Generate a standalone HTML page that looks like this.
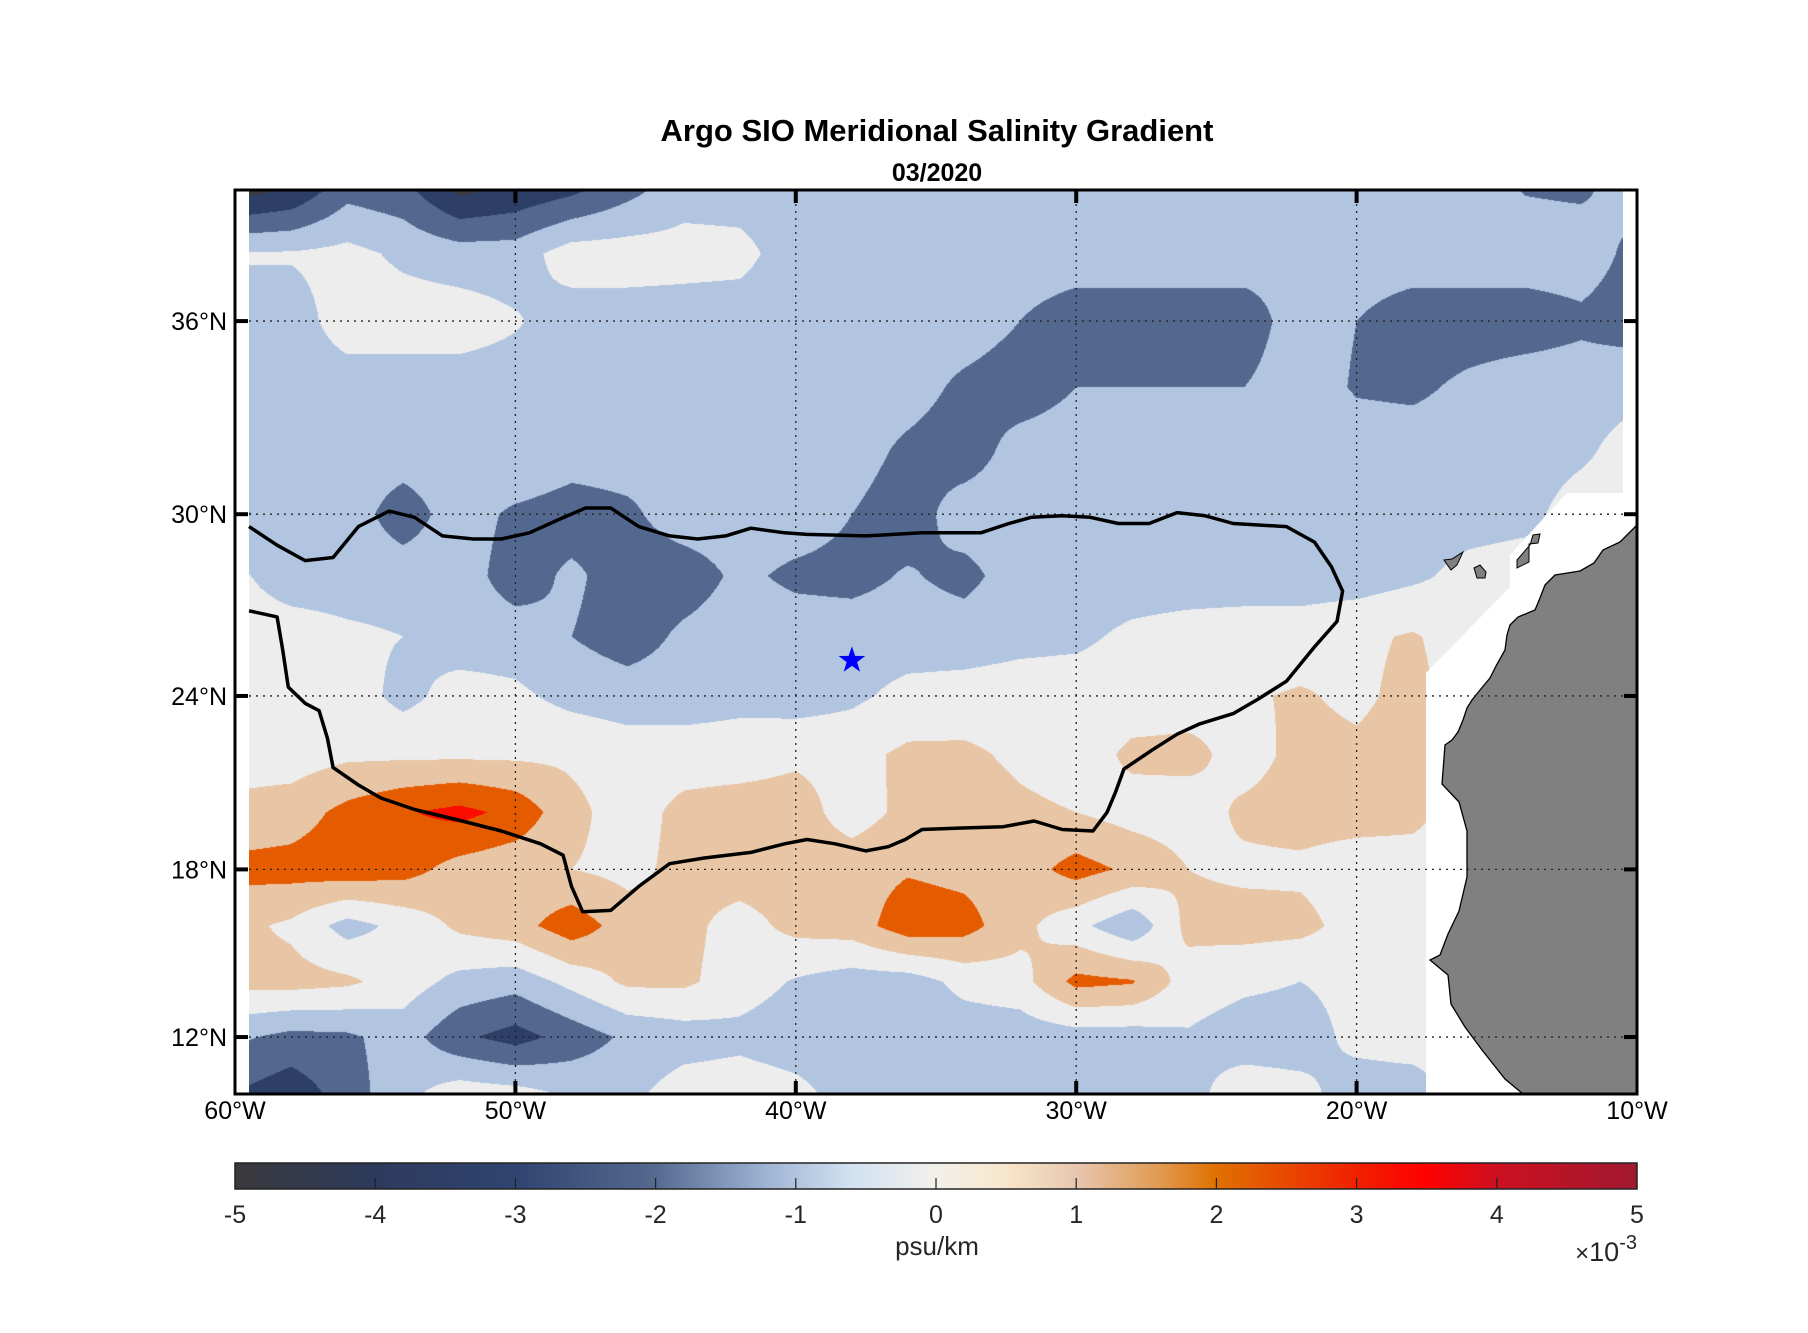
<!DOCTYPE html>
<html><head><meta charset="utf-8"><style>
html,body{margin:0;padding:0;background:#fff;}
#wrap{position:relative;width:1808px;height:1333px;overflow:hidden;font-family:"Liberation Sans",sans-serif;}
canvas,svg{position:absolute;left:0;top:0;}
</style></head><body>
<div id="wrap">
<canvas id="cv" width="1808" height="1333"></canvas>
<svg id="sv" width="1808" height="1333" xmlns="http://www.w3.org/2000/svg">
<defs>
<linearGradient id="cmap" x1="0" x2="1" y1="0" y2="0">
<stop offset="0" stop-color="#3a3a3c"/><stop offset="0.1" stop-color="#2d3a5c"/><stop offset="0.2" stop-color="#2f4470"/>
<stop offset="0.3" stop-color="#56698f"/><stop offset="0.38" stop-color="#a0b4d4"/><stop offset="0.44" stop-color="#d2e2f2"/>
<stop offset="0.5" stop-color="#f2f0ea"/><stop offset="0.55" stop-color="#f8e6cc"/><stop offset="0.6" stop-color="#e8c6b0"/>
<stop offset="0.66" stop-color="#e09a50"/><stop offset="0.7" stop-color="#e07000"/><stop offset="0.8" stop-color="#f02000"/>
<stop offset="0.85" stop-color="#ff0000"/><stop offset="0.9" stop-color="#cc1020"/><stop offset="1" stop-color="#a01830"/>
</linearGradient>
</defs>
<polygon fill="#fff" points="1426,1094 1426,673 1510,587 1510,555 1542,520 1567,493 1623,493 1623,190 1637,190 1637,1094"/>
<rect x="235" y="190" width="14" height="904" fill="#fff"/>
<polygon fill="#808080" stroke="#000" stroke-width="1.3" points="1637,525 1620,542 1603,550 1594,563 1580,571 1555,575 1545,585 1540,598 1535,610 1518,617 1510,625 1507,635 1505,650 1496,666 1490,678 1480,690 1472,700 1467,708 1463,720 1458,732 1452,740 1445,745 1442,784 1459,802 1467,831 1467,877 1459,911 1448,934 1440,955 1430,960 1448,975 1451,1004 1465,1027 1482,1050 1505,1079 1523,1094 1637,1094"/>
<polygon fill="#808080" stroke="#000" stroke-width="1" points="1444,560 1452,559 1463,552 1457,565 1451,570"/>
<polygon fill="#808080" stroke="#000" stroke-width="1" points="1474,568 1480,565 1486,572 1485,578 1477,578"/>
<polygon fill="#808080" stroke="#000" stroke-width="1" points="1517,560 1530,545 1533,535 1540,534 1538,543 1529,544 1529,562 1517,568"/>
<g id="grid"></g>
<g id="marks"></g>
<rect x="235" y="190" width="1402" height="904" fill="none" stroke="#000" stroke-width="3"/>
<g id="ticks"></g>
<text x="937" y="141" text-anchor="middle" font-size="31" font-weight="bold" fill="#000">Argo SIO Meridional Salinity Gradient</text>
<text x="937" y="181" text-anchor="middle" font-size="25" font-weight="bold" fill="#000">03/2020</text>
<rect x="235" y="1163" width="1402" height="26" fill="url(#cmap)" stroke="#222" stroke-width="1.5"/>
<g id="cbticks"></g>
<text x="937" y="1255" text-anchor="middle" font-size="26" fill="#262626">psu/km</text>
<text x="1637" y="1261" text-anchor="end" font-size="27" fill="#262626"><tspan font-size="24">×</tspan>10<tspan dy="-12" font-size="20">-3</tspan></text>
</svg>
</div>
<script>
const gridLons = [-60,-58,-56,-54,-52,-50,-48,-46,-44,-42,-40,-38,-36,-34,-32,-30,-28,-26,-24,-22,-20,-18,-16,-14,-12,-10];
const gridLats = [40,38,36,34,32,30,28,26,24,22,20,18,16,14,12,10];
const lat40 = [-3.8,-3.2,-1.5,-1.8,-3.5,-3.0,-2.5,-1.5,-0.5,-0.5,-0.5,-0.5,-0.5,-0.5,-0.5,-0.5,-0.5,-0.5,-0.5,-0.5,-0.5,-0.5,-0.5,-1.1,-1.2,-0.5];
const lat38 = [0.1,0.1,0.3,-0.2,-0.5,-0.5,0.5,0.5,0.4,0.3,-0.5,-0.5,-0.5,-0.5,-0.5,-0.5,-0.5,-0.5,-0.5,-0.8,-0.5,-0.5,-0.5,-0.5,-0.5,-1.3];
const lat36 = [-0.5,-0.5,0.5,0.5,0.5,0.1,-0.5,-0.5,-0.5,-0.5,-0.5,-0.5,-0.5,-0.5,-1.0,-1.5,-1.5,-1.5,-1.5,-0.5,-1.0,-1.5,-1.5,-1.5,-1.2,-1.5];
const lat34 = [-0.5,-0.5,-0.5,-0.5,-0.5,-0.5,-0.5,-0.5,-0.5,-0.5,-0.5,-0.5,-0.6,-1.2,-1.5,-1.0,-1.0,-1.0,-1.0,-0.5,-1.1,-1.2,-0.8,-0.5,-0.5,-0.3];
const lat32 = [-0.5,-0.5,-0.5,-0.5,-0.5,0.0,-0.5,-0.5,-0.7,-0.5,-0.5,-0.6,-1.2,-1.5,-0.6,-0.5,-0.5,-0.5,-0.5,-0.5,-0.5,-0.5,-0.5,-0.5,-0.2,0.5];
const lat30 = [-1.2,-0.5,-0.5,-1.5,-0.5,-1.2,-1.5,-1.2,-0.5,-0.5,-0.5,-1.0,-1.5,-0.5,-0.5,-0.5,-0.5,-0.5,-0.5,-0.5,-0.5,-0.5,-0.4,-0.3,0.5,0.5];
const lat28 = [0.2,-0.5,-0.5,-0.5,-0.5,-1.5,-0.8,-1.5,-1.5,-0.8,-1.2,-1.3,-0.9,-1.3,-0.5,-0.5,-0.5,-0.5,-0.5,-0.5,-0.5,-0.2,0.3,0.5,0.5,0.5];
const lat26 = [0.5,0.5,0.2,0.0,-0.5,-0.5,-1.0,-1.5,-0.8,-0.5,-0.5,-0.5,-0.5,-0.5,-0.3,-0.2,0.2,0.4,0.5,0.5,0.8,1.1,0.5,0.5,0.5,0.5];
const lat24 = [1.2,0.5,0.5,-0.3,0.4,0.2,-0.3,-0.5,-0.5,-0.3,-0.5,-0.2,0.3,0.4,0.5,0.5,0.5,0.5,0.9,1.1,0.8,1.3,0.5,0.5,0.5,0.5];
const lat22 = [0.5,0.5,0.8,0.8,0.8,0.8,0.8,0.5,0.5,0.5,0.8,0.7,1.2,1.2,0.8,0.5,1.2,1.3,0.6,1.3,1.2,1.4,0.5,0.5,0.5,0.5];
const lat20 = [1.3,1.5,2.3,2.9,3.3,2.7,1.3,0.5,1.3,1.5,1.5,0.5,1.3,1.5,1.2,1.0,0.6,0.5,1.2,1.4,1.4,1.3,0.5,0.5,0.5,0.5];
const lat18 = [2.3,2.4,2.6,2.4,1.6,1.3,1.0,0.7,1.3,1.5,1.5,1.6,1.9,1.7,1.5,2.4,1.8,1.0,0.8,0.8,0.5,0.5,0.5,0.5,0.5,0.5];
const lat16 = [1.3,0.8,-0.4,0.3,1.2,1.6,2.6,1.5,1.3,0.6,1.3,1.5,2.6,2.4,1.3,0.3,-0.8,1.3,1.4,1.3,0.6,0.5,0.5,0.5,0.5,0.5];
const lat14 = [1.3,1.4,1.2,0.5,-0.3,-0.6,0.3,1.2,1.2,0.5,-0.1,-0.5,-0.5,0.3,0.6,2.3,2.1,0.5,0.2,0.0,0.3,0.5,0.5,0.5,0.5,0.5];
const lat12 = [-0.8,-1.3,-1.2,-0.5,-1.8,-2.4,-1.6,-0.8,-0.5,-0.3,-0.6,-0.6,-0.6,-0.6,-0.6,-0.5,-0.5,-0.1,-0.5,-0.5,0.3,0.5,0.5,0.5,0.5,0.5];
const lat10 = [-2.0,-2.6,-1.5,-0.3,0.5,0.3,-0.2,-0.3,0.5,0.6,0.3,-0.5,-0.5,-0.5,-0.5,-0.5,-0.5,-0.3,0.5,0.3,-0.5,-0.5,0.5,0.5,0.5,0.5];
const fieldRows = [lat40,lat38,lat36,lat34,lat32,lat30,lat28,lat26,lat24,lat22,lat20,lat18,lat16,lat14,lat12,lat10];
const levelEdges = [-3,-2,-1,0,1,2,3];
const levelColors = ["#3b3c42","#2d3f66","#53688f","#b1c5e1","#ededed","#e8c5a5","#e55b00","#fa0c00"];
const lonTicks = [-60,-50,-40,-30,-20,-10];
const lonTickLabels = ["60°W","50°W","40°W","30°W","20°W","10°W"];
const latTicks = [12,18,24,30,36];
const latTickLabels = ["12°N","18°N","24°N","30°N","36°N"];
const cbTicks = [-5,-4,-3,-2,-1,0,1,2,3,4,5];
const lineLons = [-59.5,-58.5,-57.5,-56.5,-55.6,-54.5,-53.6,-52.6,-51.5,-50.5,-49.5,-48.4,-47.5,-46.6,-45.6,-44.5,-43.5,-42.5,-41.6,-40.4,-39.6,-37.5,-35.5,-33.4,-32.4,-31.6,-30.5,-29.5,-28.5,-27.4,-26.4,-25.4,-24.4,-22.5,-21.5,-20.9,-20.5,-20.7,-21.5,-22.5,-23.5,-24.4,-25.6,-26.4,-27.3,-28.3,-28.6,-28.9,-29.4,-30.5,-31.5,-32.6,-34.2,-35.5,-36.1,-36.7,-37.5,-38.6,-39.6,-40.4,-41.6,-43.3,-44.5,-45.6,-46.6,-47.6,-48.0,-48.3,-49.1,-50.5,-51.9,-53.6,-54.8,-55.6,-56.5,-56.7,-57.0,-57.5,-58.1,-58.3,-58.5,-59.5];
const lineLats = [29.6,29.0,28.5,28.6,29.6,30.1,29.9,29.3,29.2,29.2,29.4,29.85,30.2,30.2,29.6,29.3,29.2,29.3,29.55,29.4,29.35,29.3,29.4,29.4,29.7,29.9,29.95,29.9,29.7,29.7,30.05,29.95,29.7,29.6,29.1,28.3,27.5,26.5,25.65,24.5,23.9,23.4,23.05,22.7,22.15,21.5,20.7,20.0,19.35,19.4,19.7,19.5,19.45,19.4,19.05,18.8,18.65,18.9,19.05,18.9,18.6,18.4,18.2,17.4,16.55,16.5,17.4,18.5,18.9,19.35,19.7,20.1,20.5,20.95,21.55,22.55,23.5,23.75,24.3,25.55,26.65,26.85];
const starLon = -38.0, starLat = 25.2;

const X0=235, X1=1637, Y0=190, Y1=1094, MK=1545.4, MY=1363.1;
function merc(lat){return Math.log(Math.tan(Math.PI/4+lat*Math.PI/360));}
function xOf(lon){return X0+(lon+60)*(X1-X0)/50;}
function yOf(lat){return MY-MK*merc(lat);}
function latOfY(y){const m=(MY-y)/MK;return (2*Math.atan(Math.exp(m))-Math.PI/2)*180/Math.PI;}
function cbX(v){return X0+(v+5)*(X1-X0)/10;}

const cv=document.getElementById('cv');const ctx=cv.getContext('2d');
const img=ctx.createImageData(X1-X0,Y1-Y0);
const rgb=levelColors.map(c=>[parseInt(c.slice(1,3),16),parseInt(c.slice(3,5),16),parseInt(c.slice(5,7),16)]);
const nI=gridLons.length, nJ=gridLats.length, dLon=gridLons[1]-gridLons[0], dLat=gridLats[0]-gridLats[1];
for(let py=0;py<Y1-Y0;py++){
  const lat=latOfY(Y0+py+0.5);
  let gj=(gridLats[0]-lat)/dLat; gj=Math.max(0,Math.min(nJ-1.0001,gj));
  const j=Math.floor(gj), fj=gj-j;
  for(let px=0;px<X1-X0;px++){
    const lon=gridLons[0]+(px+0.5)*50/(X1-X0);
    let gi=(lon-gridLons[0])/dLon; gi=Math.max(0,Math.min(nI-1.0001,gi));
    const i=Math.floor(gi), fi=gi-i;
    const v=(fieldRows[j][i]*(1-fi)+fieldRows[j][i+1]*fi)*(1-fj)+(fieldRows[j+1][i]*(1-fi)+fieldRows[j+1][i+1]*fi)*fj;
    let b=0; while(b<levelEdges.length&&v>=levelEdges[b])b++;
    const c=rgb[b], k=(py*(X1-X0)+px)*4;
    img.data[k]=c[0];img.data[k+1]=c[1];img.data[k+2]=c[2];img.data[k+3]=255;
  }
}
ctx.putImageData(img,X0,Y0);

const NS='http://www.w3.org/2000/svg';
function mk(tag,attrs,parent){const e=document.createElementNS(NS,tag);for(const k in attrs)e.setAttribute(k,attrs[k]);parent.appendChild(e);return e;}
const gGrid=document.getElementById('grid'), gMarks=document.getElementById('marks'), gTicks=document.getElementById('ticks'), gCb=document.getElementById('cbticks');
lonTicks.forEach((lon,i)=>{
  const x=xOf(lon);
  if(i>0&&i<lonTicks.length-1){
    const gl=mk('line',{x1:x,x2:x,y1:Y0,y2:Y1,stroke:'#222','stroke-width':1.3,'stroke-dasharray':'2,5'},gGrid);
    
    
    const t1=mk('line',{x1:x,x2:x,y1:Y0,y2:Y0+13,stroke:'#000','stroke-width':4},gTicks);
    
    
    const t2=mk('line',{x1:x,x2:x,y1:Y1,y2:Y1-13,stroke:'#000','stroke-width':4},gTicks);
    
    
  }
  const tl=mk('text',{x:x,y:Y1+25,'text-anchor':'middle','font-size':25,fill:'#000'},gTicks);
  tl.textContent=lonTickLabels[i];
  
  
});
latTicks.forEach((lat,i)=>{
  const y=yOf(lat);
  const gl=mk('line',{x1:X0,x2:X1,y1:y,y2:y,stroke:'#222','stroke-width':1.3,'stroke-dasharray':'2,5'},gGrid);
  
  
  const t1=mk('line',{x1:X0,x2:X0+13,y1:y,y2:y,stroke:'#000','stroke-width':4},gTicks);
  
  
  const t2=mk('line',{x1:X1,x2:X1-13,y1:y,y2:y,stroke:'#000','stroke-width':4},gTicks);
  
  
  const tl=mk('text',{x:X0-8,y:y+9,'text-anchor':'end','font-size':25,fill:'#000'},gTicks);
  tl.textContent=latTickLabels[i];
  
  
});
const pts=lineLons.map((lon,i)=>xOf(lon).toFixed(1)+','+yOf(lineLats[i]).toFixed(1)).join(' ');
const pl=mk('polyline',{points:pts,fill:'none',stroke:'#000','stroke-width':3.5,'stroke-linejoin':'round'},gMarks);


const sx=xOf(starLon), sy=yOf(starLat); let sp='';
for(let k=0;k<10;k++){const r=k%2?5.5:14;const a=-Math.PI/2+k*Math.PI/5;sp+=(sx+r*Math.cos(a)).toFixed(1)+','+(sy+r*Math.sin(a)).toFixed(1)+' ';}
const st=mk('polygon',{points:sp,fill:'#0000ff'},gMarks);


cbTicks.forEach(v=>{
  const x=cbX(v);
  if(v>-5&&v<5){
    const tk=mk('line',{x1:x,x2:x,y1:1189,y2:1178,stroke:'#222','stroke-width':1.2},gCb);
    
    
  }
  const tl=mk('text',{x:x,y:1223,'text-anchor':'middle','font-size':25,fill:'#262626'},gCb);
  tl.textContent=String(v);
  
  
});
</script>
</body></html>
